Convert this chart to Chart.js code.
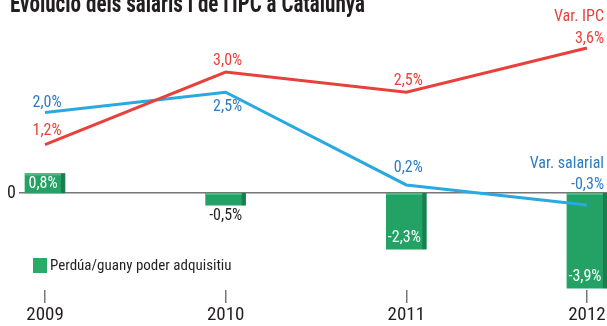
<!DOCTYPE html>
<html>
<head>
<meta charset="utf-8">
<script src="https://cdn.jsdelivr.net/npm/chart.js@4.4.1/dist/chart.umd.min.js"></script>
<style>
  body { margin: 0; background: #fff; }
</style>
</head>
<body>
<canvas id="salarisChart" width="607" height="326"></canvas>
<script>
const years = [2009, 2010, 2011, 2012];
const ipc = [1.2, 3.0, 2.5, 3.6];
const salaris = [2.0, 2.5, 0.2, -0.3];
const poderAdquisitiu = [0.8, -0.5, -2.3, -3.9];

const titleText = "Evolució dels salaris i de l'IPC a Catalunya";
const legendText = 'Perdúa/guany poder adquisitiu';

const RED = '#e8413b';
const BLUE_LINE = '#2aa8e0';
const BLUE_TEXT = '#2b7cc2';
const GREEN = '#24a164';
const FONT = '"Roboto Condensed", Roboto, sans-serif';

function fmt(v) {
   return v.toFixed(1).replace('.', ',') + '%';
}

function drawText(ctx, text, x, y, opts) {
   ctx.save();
   ctx.font = (opts.weight || 'normal') + ' ' + opts.size + 'px ' + FONT;
   ctx.fillStyle = opts.color;
   ctx.textAlign = opts.align || 'center';
   ctx.textBaseline = opts.baseline || 'middle';
   ctx.fillText(text, x, y);
   ctx.restore();
}

// 3D look of the bars plus every label of the chart
const labelsPlugin = {
   id: 'labels',
   afterDatasetDraw(chart, args) {
      if (args.index !== 0) return;
      const ctx = chart.ctx;
      args.meta.data.forEach(bar => {
         const left = bar.x - bar.width / 2;
         const top = Math.min(bar.y, bar.base);
         const h = Math.abs(bar.base - bar.y);
         ctx.save();
         ctx.fillStyle = '#1b7e4e';
         ctx.fillRect(left + bar.width - 4, top, 4, h);
         ctx.fillStyle = '#47bd83';
         ctx.fillRect(left, top, bar.width - 4, 2);
         ctx.restore();
      });
   },
   afterDraw(chart) {
      const ctx = chart.ctx;
      const area = chart.chartArea;
      const last = years.length - 1;
      const rightEdge = area.right - 3;

      // title, squeezed to the width of the original condensed face
      ctx.save();
      ctx.font = 'bold 25px ' + FONT;
      const w = ctx.measureText(titleText).width;
      ctx.translate(10, 12);
      ctx.scale(355 / w, 1);
      ctx.fillStyle = '#231f20';
      ctx.textBaseline = 'alphabetic';
      ctx.fillText(titleText, 0, 0);
      ctx.restore();

      // IPC labels
      const ipcPts = chart.getDatasetMeta(1).data;
      ipc.forEach((v, i) => {
         const p = ipcPts[i];
         if (i === last) {
            drawText(ctx, 'Var. IPC', rightEdge, 17, { size: 16, color: RED, align: 'right' });
            drawText(ctx, fmt(v), rightEdge, 39, { size: 16, color: RED, align: 'right' });
         } else {
            drawText(ctx, fmt(v), p.x + 2, p.y - (i === 0 ? 14 : 11), { size: 16, color: RED });
         }
      });

      // salary labels
      const salPts = chart.getDatasetMeta(2).data;
      salaris.forEach((v, i) => {
         const p = salPts[i];
         if (i === last) {
            drawText(ctx, 'Var. salarial', rightEdge, 164, { size: 16, color: BLUE_TEXT, align: 'right' });
            drawText(ctx, fmt(v), rightEdge, 185, { size: 16, color: BLUE_TEXT, align: 'right' });
         } else if (salaris[i - 1] !== undefined && v > salaris[i - 1] && v > salaris[i + 1]) {
            drawText(ctx, fmt(v), p.x + 2, p.y + 15, { size: 16, color: BLUE_TEXT });
         } else {
            drawText(ctx, fmt(v), p.x + 2, p.y - (i === 0 ? 9 : 17), { size: 16, color: BLUE_TEXT });
         }
      });

      // bar labels
      const bars = chart.getDatasetMeta(0).data;
      poderAdquisitiu.forEach((v, i) => {
         const b = bars[i];
         if (v > 0) {
            drawText(ctx, fmt(v), b.x - 2, (b.y + b.base) / 2 + 1, { size: 16, color: '#fff' });
         } else if (Math.abs(b.base - b.y) < 30) {
            drawText(ctx, fmt(v), b.x, b.y + 11, { size: 16, color: '#231f20' });
         } else {
            drawText(ctx, fmt(v), b.x - 2, b.y - 11, { size: 16, color: '#fff' });
         }
      });

      // legend
      ctx.save();
      ctx.fillStyle = '#2aaa68';
      ctx.fillRect(33, 258, 14, 15);
      ctx.restore();
      drawText(ctx, legendText, 50, 266, { size: 15, color: '#231f20', align: 'left' });
   }
};

const toPoints = values => years.map((y, i) => ({ x: y, y: values[i] }));

new Chart(document.getElementById('salarisChart'), {
   data: {
      datasets: [
         {
            type: 'bar',
            label: legendText,
            data: toPoints(poderAdquisitiu),
            yAxisID: 'y2',
            backgroundColor: GREEN,
            barThickness: 40,
            order: 3
         },
         {
            type: 'line',
            label: 'Var. IPC',
            data: toPoints(ipc),
            yAxisID: 'y',
            borderColor: RED,
            borderWidth: 3,
            pointRadius: 0,
            tension: 0,
            order: 1
         },
         {
            type: 'line',
            label: 'Var. salarial',
            data: toPoints(salaris),
            yAxisID: 'y',
            borderColor: BLUE_LINE,
            borderWidth: 3,
            pointRadius: 0,
            tension: 0,
            order: 2
         }
      ]
   },
   options: {
      responsive: false,
      animation: false,
      devicePixelRatio: 1,
      layout: { padding: { top: 30, right: 0, bottom: 0, left: 0 } },
      plugins: {
         legend: { display: false },
         tooltip: { enabled: false }
      },
      scales: {
         x: {
            type: 'linear',
            min: 2008.856,
            max: 2012.111,
            offset: false,
            border: { display: false },
            grid: { offset: false, drawOnChartArea: false, tickLength: 13, color: '#777', lineWidth: 1.5 },
            afterBuildTicks: scale => { scale.ticks = years.map(v => ({ value: v })); },
            afterFit: scale => { scale.height = 36; },
            ticks: {
               autoSkip: false,
               maxRotation: 0,
               padding: 1,
               color: '#231f20',
               font: { family: FONT, size: 19 },
               callback: v => String(v)
            }
         },
         y: {
            type: 'linear',
            min: -2.407,
            max: 4.045,
            border: { display: false },
            grid: {
               drawTicks: false,
               lineWidth: 1.5,
               color: c => (c.tick && c.tick.value === 0 ? '#777' : 'rgba(0,0,0,0)')
            },
            afterBuildTicks: scale => { scale.ticks = [{ value: 0 }]; },
            afterFit: scale => { scale.width = 19; },
            ticks: {
               padding: 3,
               color: '#231f20',
               font: { family: FONT, size: 18 },
               callback: v => String(v)
            }
         },
         y2: {
            type: 'linear',
            display: false,
            min: -3.975,
            max: 6.68
         }
      }
   },
   plugins: [labelsPlugin]
});
</script>
</body>
</html>
